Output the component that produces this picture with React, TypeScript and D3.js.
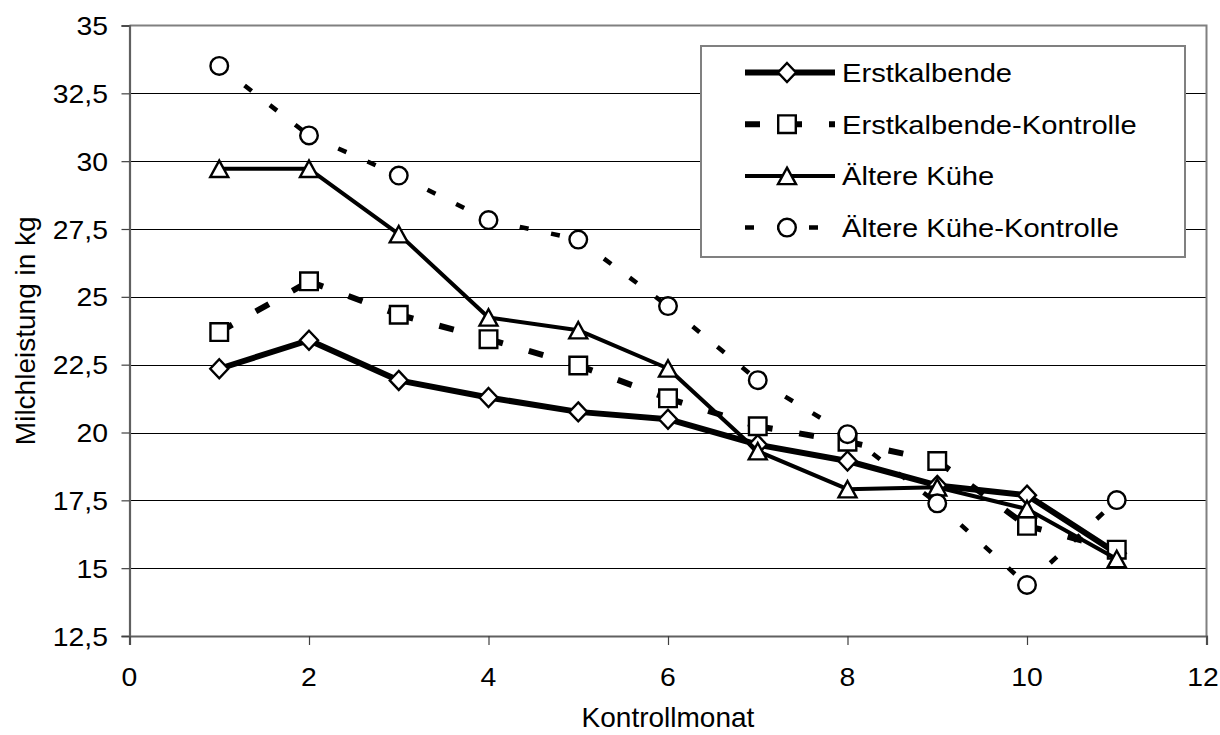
import React, { useEffect, useRef } from 'react';
import * as d3 from 'd3';

// Kontrollmonat 1..11
const months = [1, 2, 3, 4, 5, 6, 7, 8, 9, 10, 11];
const erstkalbende = [22.35, 23.4, 21.92, 21.29, 20.76, 20.49, 19.55, 18.95, 18.05, 17.69, 15.55];
const erstkalbendeKontrolle = [23.7, 25.57, 24.34, 23.44, 22.47, 21.26, 20.23, 19.66, 18.95, 16.56, 15.68];
const aeltereKuehe = [29.72, 29.72, 27.31, 24.24, 23.77, 22.36, 19.31, 17.91, 17.98, 17.18, 15.34];
const aeltereKueheKontrolle = [33.51, 30.95, 29.47, 27.83, 27.11, 24.66, 21.93, 19.94, 17.39, 14.38, 17.51];

const seriesNames = ['Erstkalbende', 'Erstkalbende-Kontrolle', 'Ältere Kühe', 'Ältere Kühe-Kontrolle'];
const xTicks = [0, 2, 4, 6, 8, 10, 12];
const yTicks = [12.5, 15, 17.5, 20, 22.5, 25, 27.5, 30, 32.5, 35];

const FONT = '"Liberation Sans", Arial, sans-serif';

type Style = { width: number; dash: string | null; marker: string };

const styles: Style[] = [
  { width: 6, dash: null, marker: 'diamond' },
  { width: 6, dash: '15,27', marker: 'square' },
  { width: 4, dash: null, marker: 'triangle' },
  { width: 4.5, dash: '9,23', marker: 'circle' },
];

function markerPath(kind: string) {
  if (kind === 'diamond') return 'M0,-9.5L9,0L0,9.5L-9,0Z';
  if (kind === 'square') return 'M-8.8,-8.8H8.8V8.8H-8.8Z';
  if (kind === 'triangle') return 'M0,-8.2L9,8.2H-9Z';
  return d3.arc()({ innerRadius: 0, outerRadius: 8.8, startAngle: 0, endAngle: 2 * Math.PI } as any) as string;
}

export default () => {
  const svgRef = useRef<SVGSVGElement>(null);
  const width = 1220;
  const height = 735;

  function loadGraph(elm: SVGSVGElement) {
    const svg = d3.select(elm);
    svg.selectAll('*').remove();

    const x = d3.scaleLinear().domain([0, 12]).range([129.5, 1206.5]);
    const y = d3.scaleLinear().domain([12.5, 35]).range([636, 25.5]);

    // gridlines
    svg.append('g')
      .selectAll('line')
      .data(yTicks.slice(1, -1))
      .enter()
      .append('line')
      .attr('x1', x(0)).attr('x2', x(12))
      .attr('y1', d => Math.round(y(d)) + 0.5).attr('y2', d => Math.round(y(d)) + 0.5)
      .attr('stroke', '#000').attr('stroke-width', 1);

    // plot frame (top / right)
    svg.append('path')
      .attr('d', `M${x(0)},${y(35)}H${x(12)}V${y(12.5)}`)
      .attr('fill', 'none').attr('stroke', '#808080').attr('stroke-width', 2);

    // y axis
    const yAxis = svg.append('g').attr('transform', `translate(${x(0)},0)`)
      .call(d3.axisLeft(y).tickValues(yTicks).tickSize(8).tickFormat(() => ''));
    yAxis.select('.domain').attr('stroke', '#606060').attr('stroke-width', 2.2);
    yAxis.selectAll('.tick line').attr('stroke', '#404040').attr('stroke-width', 1.2);

    yTicks.forEach(v => {
      svg.append('text')
        .text(d3.format('.1f')(v).replace('.0', '').replace('.', ','))
        .attr('transform', `translate(108,${y(v) + 9.5}) scale(1.07,1)`)
        .attr('text-anchor', 'end')
        .attr('font-family', FONT).attr('font-size', 26.5).attr('fill', '#000');
    });

    // x axis
    const xAxis = svg.append('g').attr('transform', `translate(0,${y(12.5)})`)
      .call(d3.axisBottom(x).tickValues(xTicks).tickSize(9).tickFormat(() => ''));
    xAxis.select('.domain').attr('stroke', '#606060').attr('stroke-width', 2.2);
    xAxis.selectAll('.tick line').attr('stroke', '#404040').attr('stroke-width', 1.2);

    xTicks.forEach(v => {
      svg.append('text')
        .text(String(v))
        .attr('transform', `translate(${Math.min(x(v), 1203)},686) scale(1.07,1)`)
        .attr('text-anchor', 'middle')
        .attr('font-family', FONT).attr('font-size', 26.5).attr('fill', '#000');
    });

    // axis titles
    svg.append('text')
      .text('Kontrollmonat')
      .attr('x', (x(0) + x(12)) / 2).attr('y', 727)
      .attr('text-anchor', 'middle')
      .attr('font-family', FONT).attr('font-size', 28);

    svg.append('text')
      .text('Milchleistung in kg')
      .attr('transform', `translate(35,${(y(12.5) + y(35)) / 2}) rotate(-90)`)
      .attr('text-anchor', 'middle')
      .attr('font-family', FONT).attr('font-size', 28);

    const allSeries = [erstkalbende, erstkalbendeKontrolle, aeltereKuehe, aeltereKueheKontrolle];
    const line = d3.line<[number, number]>().x(d => d[0]).y(d => d[1]);

    allSeries.forEach((values, si) => {
      const st = styles[si];
      const pts: [number, number][] = months.map((m, i) => [x(m), y(values[i])]);
      const g = svg.append('g');
      if (st.dash) {
        // Excel restarts the dash pattern on every segment
        d3.pairs(pts).forEach(pair => {
          g.append('path')
            .attr('d', line(pair))
            .attr('fill', 'none').attr('stroke', '#000')
            .attr('stroke-width', st.width)
            .attr('stroke-dasharray', st.dash);
        });
      } else {
        g.append('path')
          .attr('d', line(pts))
          .attr('fill', 'none').attr('stroke', '#000')
          .attr('stroke-width', st.width)
          .attr('stroke-linejoin', 'round');
      }
      g.selectAll('.mk')
        .data(pts)
        .enter()
        .append('path')
        .attr('transform', d => `translate(${d[0]},${d[1]})`)
        .attr('d', markerPath(st.marker))
        .attr('fill', '#fff').attr('stroke', '#000').attr('stroke-width', 2.4);
    });

    // legend
    const lg = svg.append('g');
    lg.append('rect')
      .attr('x', 701).attr('y', 46).attr('width', 484).attr('height', 211)
      .attr('fill', '#fff').attr('stroke', '#808080').attr('stroke-width', 2);

    seriesNames.forEach((name, i) => {
      const st = styles[i];
      const cy = 72.5 + i * 51.7;
      lg.append('path')
        .attr('d', line([[745, cy], [835, cy]]))
        .attr('fill', 'none').attr('stroke', '#000')
        .attr('stroke-width', st.width)
        .attr('stroke-dasharray', st.dash ?? null);
      lg.append('path')
        .attr('transform', `translate(787,${cy})`)
        .attr('d', markerPath(st.marker))
        .attr('fill', '#fff').attr('stroke', '#000').attr('stroke-width', 2.4);
      lg.append('text')
        .text(name)
        .attr('transform', `translate(842,${cy + 9.5}) scale(1.1,1)`)
        .attr('font-family', FONT).attr('font-size', 26.5);
    });
  }

  useEffect(() => {
    if (svgRef.current) {
      loadGraph(svgRef.current);
    }
  }, [svgRef.current]);

  return (
    <svg
      ref={svgRef}
      width={width}
      height={height}
      style={{ position: 'absolute', left: 0, top: 0, background: '#fff' }}
    ></svg>
  );
}
